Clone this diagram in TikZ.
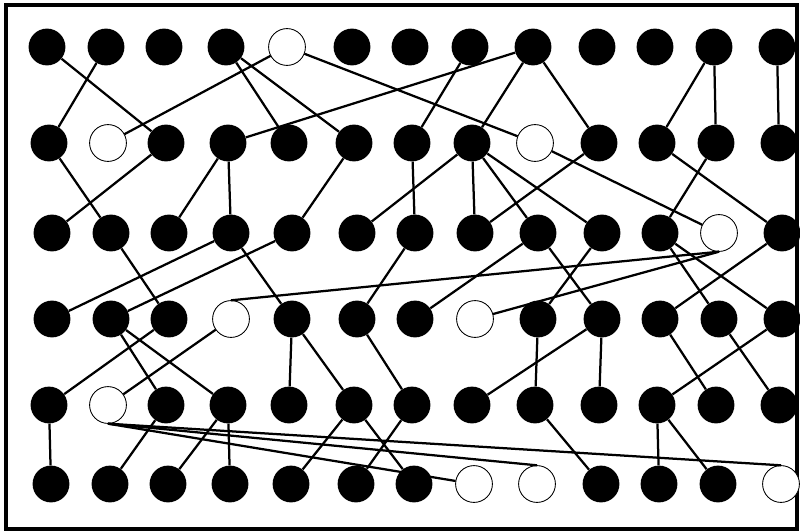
\documentclass[tikz,border=0pt]{standalone}
\begin{document}
\begin{tikzpicture}[x=0.025cm,y=-0.025cm,
 dot/.style={circle,fill=black,minimum size=0.92cm,inner sep=0pt},
 hole/.style={circle,draw=black,fill=white,line width=0.6pt,minimum size=0.92cm,inner sep=0pt},
 link/.style={draw=black,line width=1.6pt}]
\useasboundingbox (0,0) rectangle (800,531);
\draw[line width=2.2pt] (6,5) rectangle (797,529);
% grid of vertices, row/y/shift
\foreach \r/\y/\s in {1/47/-3,2/143/-1,3/233/2,4/319/2,5/405/-1,6/484/1}
 \foreach \c/\x in {1/50,2/109,3/167,4/229,5/290,6/355,7/413,8/473,9/536,10/600,11/658,12/717,13/780}
  \node[dot] (v\r-\c) at ({\x+\s},\y) {};
% open vertices
\foreach \p in {1-5,2-2,2-9,3-12,4-4,4-8,5-2,6-8,6-9,6-13}
 \node[hole] at (v\p) {};
% edges
\foreach \a/\b in {1-1/2-3,1-2/2-1,1-4/2-5,1-4/2-6,1-5/2-2,1-5/2-9,1-8/2-7,1-9/2-4,1-9/2-8,1-9/2-10,1-12/2-11,1-12/2-12,1-13/2-13,
  2-1/3-2,2-3/3-1,2-4/3-3,2-4/3-4,2-6/3-5,2-7/3-7,2-8/3-6,2-8/3-8,2-8/3-9,2-8/3-10,2-9/3-12,2-10/3-8,2-11/3-13,2-12/3-11,
  3-2/4-3,3-4/4-1,3-5/4-2,3-4/4-5,3-7/4-6,3-9/4-7,3-9/4-10,3-10/4-9,3-11/4-12,3-11/4-13,3-13/4-11,
  4-2/5-3,4-2/5-4,4-3/5-1,4-4/5-2,4-5/5-5,4-5/5-6,4-6/5-7,4-9/5-9,4-10/5-8,4-10/5-10,4-11/5-12,4-12/5-13,4-13/5-11,
  5-1/6-1,5-3/6-2,5-4/6-3,5-4/6-4,5-6/6-5,5-6/6-7,5-7/6-6,5-9/6-10,5-11/6-11,5-11/6-12}
 \draw[link] (v\a) -- (v\b);
\draw[link] (v4-4.north) -- (v3-12.south);
\draw[link] (v4-8) -- (v3-12.south);
\draw[link] (v5-2.south) -- (v6-8);
\draw[link] (v5-2.south) -- (v6-9.north);
\draw[link] (v5-2.south) -- (v6-13.north);
\end{tikzpicture}
\end{document}
